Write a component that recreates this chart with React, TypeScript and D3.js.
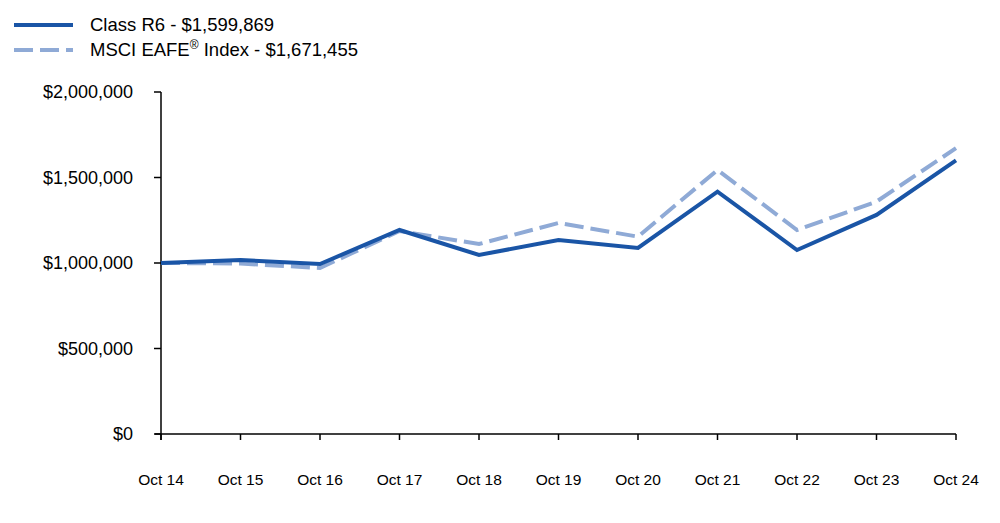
import React from "react";
import * as d3 from "d3";

const categories = ["Oct 14","Oct 15","Oct 16","Oct 17","Oct 18","Oct 19","Oct 20","Oct 21","Oct 22","Oct 23","Oct 24"];
const classR6 = [1000000,1017000,994000,1193000,1047000,1135000,1088000,1417000,1076000,1281000,1599869];
const msci = [1000000,997000,971000,1187000,1111000,1234000,1154000,1544000,1193000,1359000,1671455];
const yTicks = [0,500000,1000000,1500000,2000000];
const legendLabels = ["Class R6 - $1,599,869", "MSCI EAFE", " Index - $1,671,455"];

const W = 1000, H = 523;
const FONT = "'Liberation Sans', Arial, sans-serif";
const C1 = "#1a55a6";
const C2 = "#8faad6";

export default function App() {
  const x = d3.scalePoint<string>().domain(categories).range([161, 956]);
  const y = d3.scaleLinear().domain([0, 2000000]).range([434, 92]);
  const line = d3.line<number>().x((_, i) => x(categories[i])!).y(d => y(d));
  const fmt = (v: number) => "$" + d3.format(",")(v);
  return (
    <svg width={W} height={H} style={{ position: "absolute", left: 0, top: 0, background: "#fff" }}>
      {/* legend */}
      <line x1={14} x2={73} y1={25} y2={25} stroke={C1} strokeWidth={4} />
      <text x={90} y={31} fontFamily={FONT} fontSize={18.5} fill="#000">{legendLabels[0]}</text>
      <line x1={14} x2={73} y1={50} y2={50} stroke={C2} strokeWidth={4} strokeDasharray="19,7" />
      <text x={90} y={56} fontFamily={FONT} fontSize={18.5} fill="#000">
        {legendLabels[1]}<tspan fontSize={12} dy={-7}>®</tspan><tspan dy={7}>{legendLabels[2]}</tspan>
      </text>
      {/* y axis */}
      <line x1={161} x2={161} y1={92} y2={440} stroke="#000" strokeWidth={1.5} />
      {yTicks.map(t => (
        <g key={t}>
          <line x1={154} x2={161} y1={y(t)} y2={y(t)} stroke="#000" strokeWidth={1.5} />
          <text x={133} y={y(t)} dy="0.35em" textAnchor="end" fontFamily={FONT} fontSize={18} fill="#000">{fmt(t)}</text>
        </g>
      ))}
      {/* x axis */}
      <line x1={155} x2={956} y1={434} y2={434} stroke="#000" strokeWidth={1.5} />
      {categories.map(c => (
        <g key={c}>
          <line x1={x(c)} x2={x(c)} y1={434} y2={440} stroke="#000" strokeWidth={1.5} />
          <text x={x(c)} y={485} textAnchor="middle" fontFamily={FONT} fontSize={15.5} fill="#000">{c}</text>
        </g>
      ))}
      <path d={line(msci)!} fill="none" stroke={C2} strokeWidth={4} strokeDasharray="19,7" />
      <path d={line(classR6)!} fill="none" stroke={C1} strokeWidth={4} />
    </svg>
  );
}
